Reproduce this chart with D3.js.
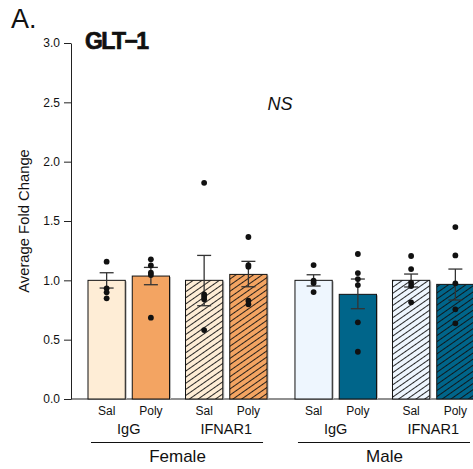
<!DOCTYPE html>
<html>
<head>
<meta charset="utf-8">
<script src="https://cdn.jsdelivr.net/npm/d3@7"></script>
<style>
  body { margin: 0; background: #fff; }
  svg { font-family: "Liberation Sans", Arial, sans-serif; }
</style>
</head>
<body>
<div id="chart"></div>
<script>
// chart values
const sexes = ["Female", "Male"];
const antibodies = ["IgG", "IFNAR1"];
const treatments = ["Sal", "Poly"];

// bars in order: Female IgG Sal, Female IgG Poly, Female IFNAR1 Sal, ... Male IFNAR1 Poly
const means = [1.00, 1.036, 1.00, 1.05, 1.00, 0.882, 1.00, 0.966];
const errLow = [0.935, 0.963, 0.786, 0.946, 0.952, 0.761, 0.944, 0.834];
const errHigh = [1.064, 1.109, 1.21, 1.16, 1.047, 1.011, 1.053, 1.095];
const points = [
    [1.157, 0.933, 0.899, 0.848],
    [1.177, 1.126, 1.064, 1.045, 0.685],
    [1.822, 0.882, 0.862, 0.84, 0.581],
    [1.365, 1.129, 1.115, 0.828, 0.798],
    [1.129, 0.997, 0.977, 0.901],
    [1.222, 1.061, 1.011, 0.96, 0.646, 0.398],
    [1.205, 1.095, 0.98, 0.952, 0.815],
    [1.449, 1.21, 0.975, 0.756, 0.638]
];
const yTicks = [0, 0.5, 1.0, 1.5, 2.0, 2.5, 3.0];

const colors = { Female: { Sal: "#feedd6", Poly: "#f3a462" }, Male: { Sal: "#eef6fe", Poly: "#00658a" } };

const width = 473, height = 469;
const svg = d3.select("#chart").append("svg")
    .attr("width", width)
    .attr("height", height);

// hatch patterns for IFNAR1 bars
const defs = svg.append("defs");
sexes.forEach(s => treatments.forEach(t => {
    const p = defs.append("pattern")
        .attr("id", `hatch-${s}-${t}`)
        .attr("patternUnits", "userSpaceOnUse")
        .attr("width", 20).attr("height", 5)
        .attr("patternTransform", "rotate(-35)");
    p.append("rect").attr("width", 20).attr("height", 5).attr("fill", colors[s][t]);
    p.append("line").attr("x1", 0).attr("x2", 20).attr("y1", 0.5).attr("y2", 0.5)
        .attr("stroke", "#111").attr("stroke-width", 0.9);
}));

// scales
const y = d3.scaleLinear().domain([0, 3]).range([399, 43]);
const xSex = d3.scaleBand().domain(sexes).range([88, 474]).paddingInner(0.135).paddingOuter(0);
const xAb = d3.scaleBand().domain(antibodies).range([0, xSex.bandwidth()]).paddingInner(0.164);
const xTr = d3.scaleBand().domain(treatments).range([0, xAb.bandwidth()]).paddingInner(0.158);

const bars = [];
sexes.forEach(s => antibodies.forEach(a => treatments.forEach(t => {
    const i = bars.length;
    bars.push({ sex: s, ab: a, tr: t, mean: means[i], lo: errLow[i], hi: errHigh[i], pts: points[i],
        x: xSex(s) + xAb(a) + xTr(t) });
})));
const bw = xTr.bandwidth();

// y axis
const yAxis = svg.append("g")
    .attr("transform", "translate(71,0)")
    .call(d3.axisLeft(y).tickValues(yTicks).tickFormat(d3.format(".1f")).tickSize(7).tickPadding(4).tickSizeOuter(0));
yAxis.selectAll("text").attr("font-size", 12).attr("fill", "#111").attr("font-family", "Liberation Sans, Arial, sans-serif");
yAxis.select(".domain").attr("stroke", "#222");
yAxis.selectAll(".tick line").attr("stroke", "#222");

// baseline
svg.append("line")
    .attr("x1", 71).attr("x2", width)
    .attr("y1", y(0)).attr("y2", y(0))
    .attr("stroke", "#222").attr("stroke-width", 1.2);

svg.append("text")
    .attr("transform", `translate(29,${(y(0) + y(3)) / 2}) rotate(-90)`)
    .attr("text-anchor", "middle")
    .attr("font-size", 14.8)
    .attr("fill", "#111")
    .text("Average Fold Change");

// bars
const g = svg.append("g");
g.selectAll("rect.shadow")
    .data(bars)
    .join("rect")
    .attr("class", "shadow")
    .attr("x", d => d.x + 1.5)
    .attr("y", d => y(d.mean) + 1)
    .attr("width", bw)
    .attr("height", d => y(0) - y(d.mean) - 1)
    .attr("fill", "#bbb");

g.selectAll("rect.bar")
    .data(bars)
    .join("rect")
    .attr("class", "bar")
    .attr("x", d => d.x)
    .attr("y", d => y(d.mean))
    .attr("width", bw)
    .attr("height", d => y(0) - y(d.mean))
    .attr("fill", d => d.ab === "IFNAR1" ? `url(#hatch-${d.sex}-${d.tr})` : colors[d.sex][d.tr])
    .attr("stroke", "#111")
    .attr("stroke-width", 1);

// error bars
const eb = g.selectAll("g.err").data(bars).join("g").attr("class", "err")
    .attr("stroke", "#333").attr("stroke-width", 1.3);
eb.append("line")
    .attr("x1", d => d.x + bw / 2).attr("x2", d => d.x + bw / 2)
    .attr("y1", d => y(d.lo)).attr("y2", d => y(d.hi));
eb.append("line")
    .attr("x1", d => d.x + bw / 2 - 7).attr("x2", d => d.x + bw / 2 + 7)
    .attr("y1", d => y(d.hi)).attr("y2", d => y(d.hi));
eb.append("line")
    .attr("x1", d => d.x + bw / 2 - 7).attr("x2", d => d.x + bw / 2 + 7)
    .attr("y1", d => y(d.lo)).attr("y2", d => y(d.lo));

// individual points
bars.forEach(b => {
    g.selectAll(null)
        .data(b.pts)
        .join("circle")
        .attr("cx", b.x + bw / 2)
        .attr("cy", v => y(v))
        .attr("r", 2.9)
        .attr("fill", "#111");
});

// x labels
svg.selectAll("text.tr")
    .data(bars)
    .join("text")
    .attr("class", "tr")
    .attr("x", d => d.x + bw / 2)
    .attr("y", 415)
    .attr("text-anchor", "middle")
    .attr("font-size", 12)
    .attr("fill", "#111")
    .text(d => d.tr);

const abLabels = [];
sexes.forEach(s => antibodies.forEach(a => abLabels.push({ s, a })));
svg.selectAll("text.ab")
    .data(abLabels)
    .join("text")
    .attr("class", "ab")
    .attr("x", d => xSex(d.s) + xAb(d.a) + xAb.bandwidth() / 2)
    .attr("y", 434)
    .attr("text-anchor", "middle")
    .attr("font-size", 14.5)
    .attr("fill", "#111")
    .text(d => d.a);

svg.selectAll("line.sex")
    .data(sexes)
    .join("line")
    .attr("class", "sex")
    .attr("x1", d => xSex(d) + 3).attr("x2", d => xSex(d) + xSex.bandwidth() - 4)
    .attr("y1", 442.5).attr("y2", 442.5)
    .attr("stroke", "#111").attr("stroke-width", 1.2);

svg.selectAll("text.sex")
    .data(sexes)
    .join("text")
    .attr("class", "sex")
    .attr("x", d => xSex(d) + xSex.bandwidth() / 2)
    .attr("y", 462)
    .attr("text-anchor", "middle")
    .attr("font-size", 17)
    .attr("fill", "#111")
    .text(d => d);

// titles
svg.append("text")
    .attr("x", 11).attr("y", 28)
    .attr("font-size", 27)
    .attr("fill", "#111")
    .text("A.");

svg.append("text")
    .attr("x", 85).attr("y", 49)
    .attr("font-size", 23)
    .attr("font-weight", "bold")
    .attr("letter-spacing", -1.6)
    .attr("fill", "#111")
    .attr("stroke", "#111")
    .attr("stroke-width", 0.7)
    .text("GLT\u22121");

svg.append("text")
    .attr("x", 280).attr("y", 110)
    .attr("text-anchor", "middle")
    .attr("font-size", 18)
    .attr("font-style", "italic")
    .attr("fill", "#111")
    .text("NS");
</script>
</body>
</html>
